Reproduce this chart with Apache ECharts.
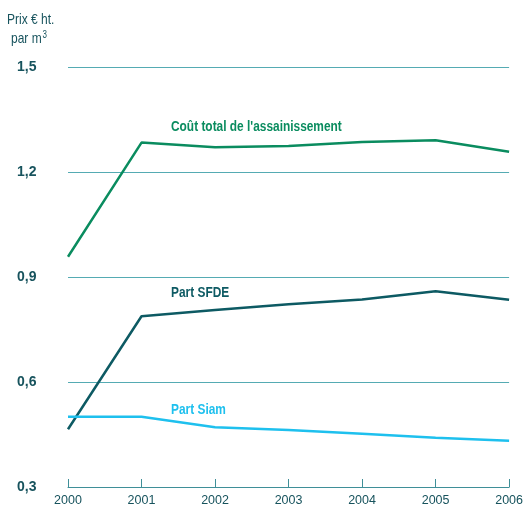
<!DOCTYPE html>
<html><head><meta charset="utf-8">
<script src="https://cdn.jsdelivr.net/npm/echarts@6/dist/echarts.min.js"></script>
<style>html,body{margin:0;padding:0;background:#fff}#c{width:526px;height:508px}</style>
</head><body><div id="c"></div>
<script>
const years = ['2000','2001','2002','2003','2004','2005','2006'];
const coutTotal = [0.958, 1.284, 1.271, 1.274, 1.286, 1.291, 1.258];
const partSFDE = [0.465, 0.788, 0.806, 0.822, 0.836, 0.859, 0.835];
const partSiam = [0.501, 0.501, 0.471, 0.463, 0.452, 0.441, 0.432];
const yTicks = [0.3, 0.6, 0.9, 1.2, 1.5];

const FONT = '"Liberation Sans", Arial, sans-serif';
const dark = '#17535d';
const chart = echarts.init(document.getElementById('c'));
chart.setOption({
  animation: false,
  grid: {left: 68, right: 15, top: 67, bottom: 21},
  xAxis: {
    type: 'category', data: years, boundaryGap: false,
    axisLine: {lineStyle: {color: '#3f8f98', width: 1}},
    axisTick: {inside: true, length: 8, lineStyle: {color: '#3f8f98'}},
    axisLabel: {color: dark, fontFamily: FONT, fontSize: 12.5, margin: 7},
    splitLine: {show: false}
  },
  yAxis: {
    type: 'value', min: 0.3, max: 1.5, interval: 0.3,
    axisLine: {show: false}, axisTick: {show: false},
    axisLabel: {color: dark, fontFamily: FONT, fontSize: 14, fontWeight: 'bold', align: 'left', margin: 51,
      formatter: v => { const t = yTicks.find(x => Math.abs(x - v) < 1e-6); return t === undefined ? '' : t.toFixed(1).replace('.', ','); }},
    splitLine: {lineStyle: {color: '#55abb3', width: 1}}
  },
  graphic: [
    {type: 'text', x: 7, y: 12, scaleX: 0.8, style: {text: 'Prix € ht.', fill: dark, font: '15px ' + FONT}},
    {type: 'text', x: 11, y: 30, scaleX: 0.8, style: {text: 'par m{s|3}', fill: dark, font: '15px ' + FONT,
      rich: {s: {fontSize: 10, verticalAlign: 'top', fill: dark, fontFamily: FONT, padding: [0, 0, 7, 1]}}}},
    {type: 'text', x: 171, y: 120, scaleX: 0.85, style: {text: "Coût total de l'assainissement", fill: '#0a8c5f', font: 'bold 14px ' + FONT}},
    {type: 'text', x: 171, y: 286, scaleX: 0.85, style: {text: 'Part SFDE', fill: '#0d5a63', font: 'bold 14px ' + FONT}},
    {type: 'text', x: 171, y: 403, scaleX: 0.85, style: {text: 'Part Siam', fill: '#1ec0ee', font: 'bold 14px ' + FONT}}
  ],
  series: [
    {type: 'line', name: "Coût total de l'assainissement", data: coutTotal, showSymbol: false, lineStyle: {color: '#0a8c5f', width: 2.5}},
    {type: 'line', name: 'Part SFDE', data: partSFDE, showSymbol: false, lineStyle: {color: '#0d5a63', width: 2.5}},
    {type: 'line', name: 'Part Siam', data: partSiam, showSymbol: false, lineStyle: {color: '#1ec0ee', width: 2.5}}
  ]
});
</script></body></html>
